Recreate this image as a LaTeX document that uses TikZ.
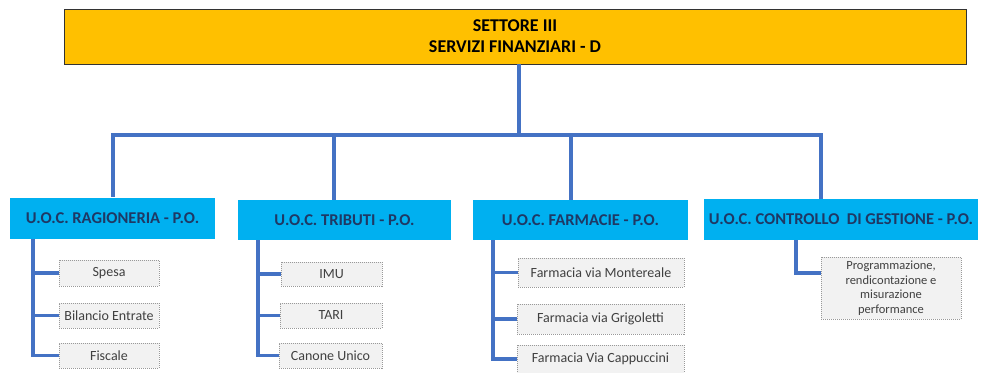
\documentclass[tikz,border=0pt]{standalone}
\usepackage{fontspec}
\setmainfont{Carlito}
\definecolor{topyel}{HTML}{FFC000}
\definecolor{uocblue}{HTML}{00B0F0}
\definecolor{navy}{HTML}{1F3864}
\definecolor{linkblue}{HTML}{4472C4}
\definecolor{childfill}{HTML}{F2F2F2}
\definecolor{childtxt}{HTML}{404040}
\begin{document}
\begin{tikzpicture}[x=1pt,y=-1pt,
  topbox/.style={draw=black!80,line width=0.8pt,fill=topyel,inner sep=0pt,align=center,
    font=\fontsize{18}{21}\selectfont\bfseries},
  uocbox/.style={fill=uocblue,inner sep=0pt,text=navy,
    font=\fontsize{16.5}{18}\selectfont\bfseries},
  childbox/.style={draw=gray!80,dash pattern=on 1pt off 1pt,line width=0.6pt,fill=childfill,
    inner sep=0pt,text=childtxt,align=center,font=\fontsize{14}{15}\selectfont},
  progbox/.style={childbox,font=\fontsize{12.5}{14.5}\selectfont},
  conn/.style={draw=linkblue,line width=3.3pt}]
\useasboundingbox (0,0) rectangle (982,372);
% top
\node[topbox,minimum width=902pt,minimum height=55pt] (top) at (515,36.5) {SETTORE III\\SERVIZI FINANZIARI - D};
% second level
\node[uocbox,minimum width=205pt,minimum height=41pt] (R) at (112.5,218) {U.O.C. RAGIONERIA - P.O.};
\node[uocbox,minimum width=213pt,minimum height=40pt] (T) at (344.5,220) {U.O.C. TRIBUTI - P.O.};
\node[uocbox,minimum width=215pt,minimum height=40pt] (F) at (580.5,220) {U.O.C. FARMACIE - P.O.};
\node[uocbox,minimum width=274pt,minimum height=41pt] (C) at (841,219.5) {U.O.C. CONTROLLO\ \ DI GESTIONE - P.O.};
% children
\node[childbox,minimum width=100pt,minimum height=26pt] (r1) at (109,273) {Spesa};
\node[childbox,minimum width=100pt,minimum height=25pt] (r2) at (109,315.5) {Bilancio Entrate};
\node[childbox,minimum width=100pt,minimum height=25pt] (r3) at (109,355.5) {Fiscale};
\node[childbox,minimum width=101pt,minimum height=24pt] (t1) at (331.5,274) {IMU};
\node[childbox,minimum width=102pt,minimum height=25pt] (t2) at (331,315.5) {TARI};
\node[childbox,minimum width=103pt,minimum height=25pt] (t3) at (330.5,355.5) {Canone Unico};
\node[childbox,minimum width=166pt,minimum height=29pt] (f1) at (601,272.5) {Farmacia via Montereale};
\node[childbox,minimum width=167pt,minimum height=30pt] (f2) at (600.5,319) {Farmacia via Grigoletti};
\node[childbox,minimum width=167pt,minimum height=28pt] (f3) at (600.5,359) {Farmacia Via Cappuccini};
\node[progbox,minimum width=140pt,minimum height=62pt] (c1) at (891,288) {Programmazione,\\rendicontazione e\\misurazione\\performance};
% connectors
\coordinate (j0) at (519,135);
\coordinate (jR) at (113,135);
\coordinate (jT) at (334,135);
\coordinate (jF) at (571,135);
\coordinate (jC) at (821,135);
\draw[conn] (top.south -| j0) -- (j0);
\draw[conn] ([xshift=-1.65pt]jR) -- ([xshift=1.65pt]jC);
\draw[conn] (jR) -- (jR |- R.north);
\draw[conn] (jT) -- (jT |- T.north);
\draw[conn] (jF) -- (jF |- F.north);
\draw[conn] (jC) -- (jC |- C.north);
% child trunks
\coordinate (vR) at (33,0);
\coordinate (vT) at (258,0);
\coordinate (vF) at (493,0);
\coordinate (vC) at (796,0);
\draw[conn] (vR |- R.south) |- (r3.west);
\draw[conn] (vR |- r1.west) -- (r1.west);
\draw[conn] (vR |- r2.west) -- (r2.west);
\draw[conn] (vT |- T.south) |- (t3.west);
\draw[conn] (vT |- t1.west) -- (t1.west);
\draw[conn] (vT |- t2.west) -- (t2.west);
\draw[conn] (vF |- F.south) |- (f3.west);
\draw[conn] (vF |- f1.west) -- (f1.west);
\draw[conn] (vF |- f2.west) -- (f2.west);
\draw[conn] (vC |- C.south) |- ([yshift=15pt]c1.west);
\end{tikzpicture}
\end{document}
